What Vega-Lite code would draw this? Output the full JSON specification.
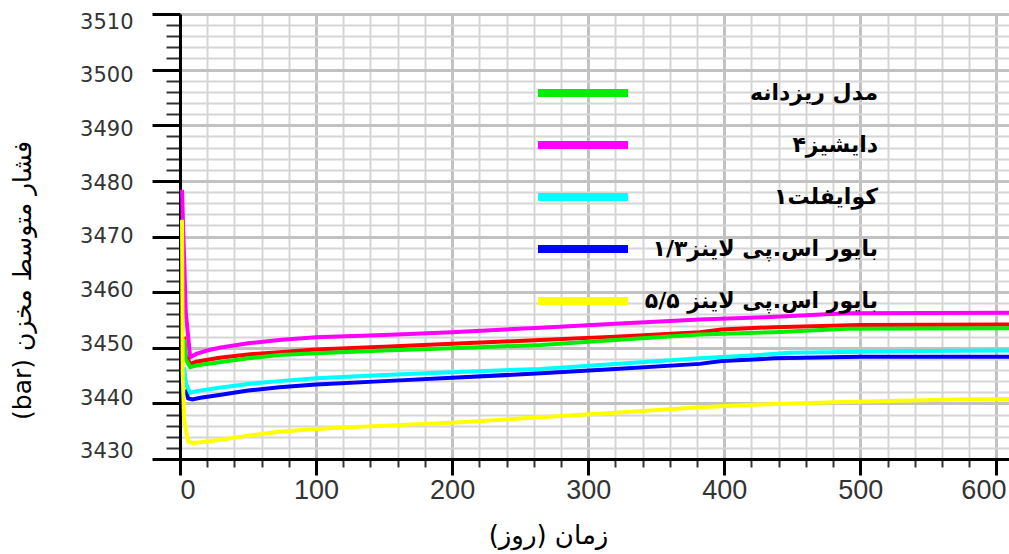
{
  "$schema": "https://vega.github.io/schema/vega-lite/v6.json",
  "width": 830,
  "height": 445,
  "autosize": {"type": "none"},
  "padding": {"left": 180, "top": 14, "right": 0, "bottom": 95},
  "background": "white",
  "config": {"view": {"stroke": null}},
  "data": {
    "values": [
      {"s": "دایشیز۴", "t": 1.5, "p": 3478.4},
      {"s": "دایشیز۴", "t": 2.5, "p": 3470},
      {"s": "دایشیز۴", "t": 3.2, "p": 3465},
      {"s": "دایشیز۴", "t": 4.2, "p": 3456.5},
      {"s": "دایشیز۴", "t": 7.5, "p": 3448.3},
      {"s": "دایشیز۴", "t": 12, "p": 3448.9},
      {"s": "دایشیز۴", "t": 20, "p": 3449.5},
      {"s": "دایشیز۴", "t": 29, "p": 3450.0},
      {"s": "دایشیز۴", "t": 50, "p": 3450.8},
      {"s": "دایشیز۴", "t": 73, "p": 3451.4},
      {"s": "دایشیز۴", "t": 100, "p": 3451.9},
      {"s": "دایشیز۴", "t": 150, "p": 3452.3},
      {"s": "دایشیز۴", "t": 200, "p": 3452.8},
      {"s": "دایشیز۴", "t": 265, "p": 3453.6},
      {"s": "دایشیز۴", "t": 320, "p": 3454.3},
      {"s": "دایشیز۴", "t": 382, "p": 3455.1},
      {"s": "دایشیز۴", "t": 430, "p": 3455.5},
      {"s": "دایشیز۴", "t": 490, "p": 3456.2},
      {"s": "دایشیز۴", "t": 610, "p": 3456.3},

      {"s": "مدل مرجع", "t": 3, "p": 3452},
      {"s": "مدل مرجع", "t": 4.2, "p": 3448.5},
      {"s": "مدل مرجع", "t": 7.5, "p": 3447.1},
      {"s": "مدل مرجع", "t": 12, "p": 3447.5},
      {"s": "مدل مرجع", "t": 29, "p": 3448.2},
      {"s": "مدل مرجع", "t": 50, "p": 3448.8},
      {"s": "مدل مرجع", "t": 73, "p": 3449.2},
      {"s": "مدل مرجع", "t": 100, "p": 3449.7},
      {"s": "مدل مرجع", "t": 150, "p": 3450.2},
      {"s": "مدل مرجع", "t": 200, "p": 3450.7},
      {"s": "مدل مرجع", "t": 265, "p": 3451.4},
      {"s": "مدل مرجع", "t": 320, "p": 3452.0},
      {"s": "مدل مرجع", "t": 382, "p": 3452.8},
      {"s": "مدل مرجع", "t": 398, "p": 3453.3},
      {"s": "مدل مرجع", "t": 437, "p": 3453.7},
      {"s": "مدل مرجع", "t": 500, "p": 3454.1},
      {"s": "مدل مرجع", "t": 610, "p": 3454.2},

      {"s": "مدل ریزدانه", "t": 3, "p": 3451.5},
      {"s": "مدل ریزدانه", "t": 4.2, "p": 3448},
      {"s": "مدل ریزدانه", "t": 7.5, "p": 3446.5},
      {"s": "مدل ریزدانه", "t": 12, "p": 3446.8},
      {"s": "مدل ریزدانه", "t": 29, "p": 3447.4},
      {"s": "مدل ریزدانه", "t": 50, "p": 3448.1},
      {"s": "مدل ریزدانه", "t": 73, "p": 3448.7},
      {"s": "مدل ریزدانه", "t": 100, "p": 3449.0},
      {"s": "مدل ریزدانه", "t": 150, "p": 3449.5},
      {"s": "مدل ریزدانه", "t": 200, "p": 3449.9},
      {"s": "مدل ریزدانه", "t": 265, "p": 3450.5},
      {"s": "مدل ریزدانه", "t": 320, "p": 3451.4},
      {"s": "مدل ریزدانه", "t": 382, "p": 3452.4},
      {"s": "مدل ریزدانه", "t": 437, "p": 3452.8},
      {"s": "مدل ریزدانه", "t": 490, "p": 3453.4},
      {"s": "مدل ریزدانه", "t": 610, "p": 3453.5},

      {"s": "بایور اس.پی لاینز۱/۳", "t": 4, "p": 3442.5},
      {"s": "بایور اس.پی لاینز۱/۳", "t": 6, "p": 3440.9},
      {"s": "بایور اس.پی لاینز۱/۳", "t": 9, "p": 3440.7},
      {"s": "بایور اس.پی لاینز۱/۳", "t": 15, "p": 3441.0},
      {"s": "بایور اس.پی لاینز۱/۳", "t": 29, "p": 3441.5},
      {"s": "بایور اس.پی لاینز۱/۳", "t": 50, "p": 3442.3},
      {"s": "بایور اس.پی لاینز۱/۳", "t": 73, "p": 3442.9},
      {"s": "بایور اس.پی لاینز۱/۳", "t": 100, "p": 3443.4},
      {"s": "بایور اس.پی لاینز۱/۳", "t": 150, "p": 3444.0},
      {"s": "بایور اس.پی لاینز۱/۳", "t": 200, "p": 3444.6},
      {"s": "بایور اس.پی لاینز۱/۳", "t": 265, "p": 3445.4},
      {"s": "بایور اس.پی لاینز۱/۳", "t": 320, "p": 3446.2},
      {"s": "بایور اس.پی لاینز۱/۳", "t": 382, "p": 3447.1},
      {"s": "بایور اس.پی لاینز۱/۳", "t": 398, "p": 3447.6},
      {"s": "بایور اس.پی لاینز۱/۳", "t": 437, "p": 3448.1},
      {"s": "بایور اس.پی لاینز۱/۳", "t": 500, "p": 3448.4},
      {"s": "بایور اس.پی لاینز۱/۳", "t": 610, "p": 3448.4},

      {"s": "کوایفلت۱", "t": 3, "p": 3446.5},
      {"s": "کوایفلت۱", "t": 4.5, "p": 3443.5},
      {"s": "کوایفلت۱", "t": 7.5, "p": 3441.9},
      {"s": "کوایفلت۱", "t": 12, "p": 3442.2},
      {"s": "کوایفلت۱", "t": 29, "p": 3442.8},
      {"s": "کوایفلت۱", "t": 50, "p": 3443.5},
      {"s": "کوایفلت۱", "t": 73, "p": 3444.0},
      {"s": "کوایفلت۱", "t": 100, "p": 3444.5},
      {"s": "کوایفلت۱", "t": 150, "p": 3445.1},
      {"s": "کوایفلت۱", "t": 200, "p": 3445.6},
      {"s": "کوایفلت۱", "t": 265, "p": 3446.2},
      {"s": "کوایفلت۱", "t": 320, "p": 3447.1},
      {"s": "کوایفلت۱", "t": 382, "p": 3448.1},
      {"s": "کوایفلت۱", "t": 426, "p": 3448.7},
      {"s": "کوایفلت۱", "t": 448, "p": 3449.1},
      {"s": "کوایفلت۱", "t": 542, "p": 3449.4},
      {"s": "کوایفلت۱", "t": 610, "p": 3449.5},

      {"s": "بایور اس.پی لاینز ۵/۵", "t": 1.5, "p": 3473},
      {"s": "بایور اس.پی لاینز ۵/۵", "t": 2, "p": 3445.5},
      {"s": "بایور اس.پی لاینز ۵/۵", "t": 3, "p": 3437},
      {"s": "بایور اس.پی لاینز ۵/۵", "t": 6, "p": 3433.1},
      {"s": "بایور اس.پی لاینز ۵/۵", "t": 10, "p": 3432.9},
      {"s": "بایور اس.پی لاینز ۵/۵", "t": 15, "p": 3433.0},
      {"s": "بایور اس.پی لاینز ۵/۵", "t": 29, "p": 3433.4},
      {"s": "بایور اس.پی لاینز ۵/۵", "t": 50, "p": 3434.2},
      {"s": "بایور اس.پی لاینز ۵/۵", "t": 73, "p": 3434.9},
      {"s": "بایور اس.پی لاینز ۵/۵", "t": 100, "p": 3435.4},
      {"s": "بایور اس.پی لاینز ۵/۵", "t": 150, "p": 3436.0},
      {"s": "بایور اس.پی لاینز ۵/۵", "t": 200, "p": 3436.5},
      {"s": "بایور اس.پی لاینز ۵/۵", "t": 265, "p": 3437.5},
      {"s": "بایور اس.پی لاینز ۵/۵", "t": 320, "p": 3438.3},
      {"s": "بایور اس.پی لاینز ۵/۵", "t": 382, "p": 3439.3},
      {"s": "بایور اس.پی لاینز ۵/۵", "t": 426, "p": 3439.8},
      {"s": "بایور اس.پی لاینز ۵/۵", "t": 480, "p": 3440.2},
      {"s": "بایور اس.پی لاینز ۵/۵", "t": 572, "p": 3440.7},
      {"s": "بایور اس.پی لاینز ۵/۵", "t": 610, "p": 3440.8}
    ]
  },
  "mark": {"type": "line", "strokeWidth": 4, "clip": true},
  "encoding": {
    "x": {
      "field": "t",
      "type": "quantitative",
      "scale": {"domain": [0, 610], "nice": false, "zero": false},
      "axis": {
        "values": [0,20,40,60,80,100,120,140,160,180,200,220,240,260,280,300,320,340,360,380,400,420,440,460,480,500,520,540,560,580,600],
        "format": "d",
        "labelExpr": "datum.value % 100 === 0 ? datum.label : ''",
        "labelFont": "Liberation Sans",
        "labelFontSize": 27,
        "labelColor": "#333333",
        "labelPadding": 2,
        "labelFlush": 5,
        "labelOffset": {"expr": "datum.value === 600 ? -13 : 0"},
        "labelOverlap": false,
        "domainColor": "black",
        "domainWidth": 3,
        "tickColor": {"condition": {"test": "datum.value % 100 === 0", "value": "black"}, "value": "#333333"},
        "tickSize": {"condition": {"test": "datum.value % 100 === 0", "value": 16}, "value": 8},
        "tickWidth": {"condition": {"test": "datum.value % 100 === 0", "value": 3}, "value": 2},
        "grid": true,
        "gridColor": {"condition": {"test": "datum.value % 100 === 0", "value": "#c2c2c2"}, "value": "#d6d6d6"},
        "gridWidth": {"condition": {"test": "datum.value % 100 === 0", "value": 3}, "value": 2},
        "gridOpacity": 1,
        "title": "‏زمان (روز)‏",
        "titleFont": "DejaVu Sans",
        "titleFontSize": 26,
        "titleFontWeight": "normal",
        "titleColor": "black",
        "titleX": 368,
        "titleY": 76,
        "titleAlign": "center",
        "titleBaseline": "middle"
      }
    },
    "y": {
      "field": "p",
      "type": "quantitative",
      "scale": {"domain": [3430, 3510], "nice": false, "zero": false},
      "axis": {
        "values": [3430,3432,3434,3436,3438,3440,3442,3444,3446,3448,3450,3452,3454,3456,3458,3460,3462,3464,3466,3468,3470,3472,3474,3476,3478,3480,3482,3484,3486,3488,3490,3492,3494,3496,3498,3500,3502,3504,3506,3508,3510],
        "format": "d",
        "labelExpr": "datum.value % 10 === 0 ? datum.label : ''",
        "labelFont": "DejaVu Sans",
        "labelFontSize": 21,
        "labelColor": "#333333",
        "labelPadding": 19,
        "labelOffset": {"expr": "8 - (3510 - datum.value) * 0.19"},
        "labelOverlap": false,
        "labelFlush": false,
        "domainColor": "black",
        "domainWidth": 3,
        "tickColor": {"condition": {"test": "datum.value % 10 === 0", "value": "black"}, "value": "#333333"},
        "tickSize": {"condition": {"test": "datum.value % 10 === 0", "value": 28}, "value": 14},
        "tickWidth": {"condition": {"test": "datum.value % 10 === 0", "value": 3}, "value": 2},
        "grid": true,
        "gridColor": {"condition": {"test": "datum.value % 10 === 0", "value": "#c2c2c2"}, "value": "#d6d6d6"},
        "gridWidth": {"condition": {"test": "datum.value % 10 === 0", "value": 3}, "value": 2},
        "gridOpacity": 1,
        "title": "(bar) فشار متوسط مخزن",
        "titleFont": "DejaVu Sans",
        "titleFontSize": 25,
        "titleFontWeight": "normal",
        "titleColor": "black",
        "titleX": -158,
        "titleY": 266,
        "titleAlign": "center",
        "titleBaseline": "middle"
      }
    },
    "color": {
      "field": "s",
      "type": "nominal",
      "scale": {
        "domain": ["دایشیز۴", "مدل مرجع", "مدل ریزدانه", "بایور اس.پی لاینز۱/۳", "کوایفلت۱", "بایور اس.پی لاینز ۵/۵"],
        "range": ["#ff00ff", "#ff0000", "#00ee00", "#0000ff", "#00ffff", "#ffff00"]
      },
      "legend": {
        "values": ["مدل ریزدانه", "دایشیز۴", "کوایفلت۱", "بایور اس.پی لاینز۱/۳", "بایور اس.پی لاینز ۵/۵"],
        "orient": "none",
        "legendX": 354,
        "legendY": 53,
        "title": null,
        "padding": 0,
        "rowPadding": 0,
        "clipHeight": 52,
        "symbolType": "stroke",
        "symbolSize": 8100,
        "symbolStrokeWidth": 8,
        "symbolOpacity": 1,
        "labelAlign": "right",
        "labelOffset": 246,
        "labelFont": "DejaVu Sans",
        "labelFontSize": 22,
        "labelFontWeight": "bold",
        "labelColor": "black",
        "labelLimit": 0
      }
    }
  }
}
